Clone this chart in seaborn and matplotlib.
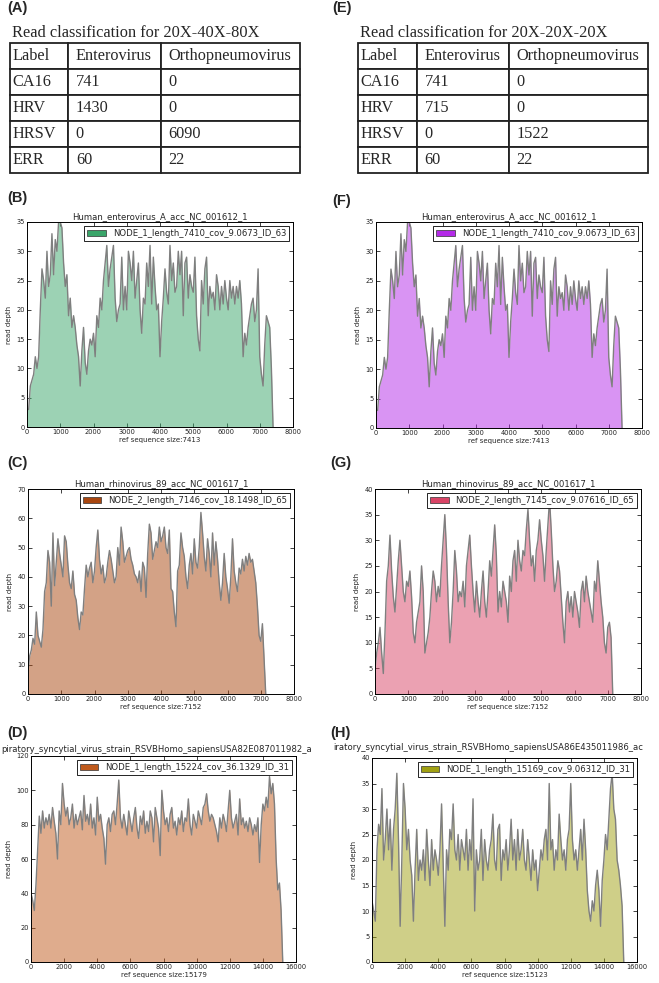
import numpy as np
import pandas as pd
import seaborn as sns
import matplotlib.pyplot as plt
from matplotlib.patches import Patch

# ---- read classification tables ----
table_cols = ["Label", "Enterovirus", "Orthopneumovirus"]
table_labels = ["CA16", "HRV", "HRSV", "ERR"]
entero_a = [741, 1430, 0, 60]
ortho_a = [0, 0, 6090, 22]
entero_e = [741, 715, 0, 60]
ortho_e = [0, 0, 1522, 22]

# ---- coverage profiles ----
# enterovirus A, same reads in (B) and (F), every 50 bp
ent_pos = np.arange(0, 7401, 50)
ent_depth = [
    3, 3, 7, 8, 9, 12, 10, 12, 20, 27,
    25, 22, 30, 24, 26, 33, 26, 32, 30, 35,
    35, 34, 28, 24, 26, 19, 22, 17, 19, 17,
    14, 12, 7, 13, 17, 11, 9, 13, 15, 14,
    16, 12, 19, 17, 22, 20, 25, 28, 31, 24,
    27, 29, 31, 22, 18, 20, 21, 29, 20, 24,
    20, 30, 28, 25, 30, 22, 25, 28, 20, 16,
    22, 21, 28, 24, 31, 21, 29, 24, 20, 21,
    12, 18, 22, 27, 23, 21, 31, 25, 28, 23,
    24, 30, 26, 30, 19, 28, 29, 22, 26, 24,
    23, 29, 19, 15, 13, 25, 21, 27, 29, 19,
    24, 22, 23, 20, 26, 24, 20, 24, 21, 25,
    22, 20, 25, 22, 24, 21, 24, 22, 25, 21,
    12, 16, 14, 17, 19, 21, 22, 18, 20, 27,
    12, 9, 7, 14, 19, 18, 17, 10, 0,
]

# rhinovirus 89, every 50 bp
rhino_pos = np.arange(0, 7151, 50)
rhino40_depth = [
    8, 13, 15, 19, 17, 28, 20, 18, 16, 22,
    35, 38, 49, 45, 30, 55, 37, 45, 53, 48,
    44, 40, 54, 52, 44, 38, 36, 42, 34, 32,
    26, 22, 28, 27, 36, 44, 40, 43, 45, 38,
    42, 50, 56, 46, 41, 44, 38, 40, 45, 49,
    46, 42, 38, 40, 50, 44, 57, 52, 45, 47,
    49, 50, 46, 44, 41, 40, 38, 42, 35, 45,
    43, 33, 48, 58, 55, 46, 49, 52, 50, 57,
    52, 54, 57, 50, 48, 56, 36, 35, 28, 23,
    42, 44, 55, 50, 47, 40, 36, 44, 48, 41,
    53, 45, 43, 50, 62, 55, 47, 42, 53, 48,
    40, 55, 44, 52, 46, 38, 32, 38, 48, 40,
    36, 31, 40, 53, 42, 38, 35, 43, 41, 46,
    42, 47, 44, 48, 45, 46, 42, 38, 30, 20,
    18, 24, 12, 0,
]
rhino20_depth = [
    5, 8, 10, 13, 8, 4, 12, 22, 25, 31,
    24, 19, 16, 21, 26, 30, 25, 20, 18, 22,
    21, 24, 19, 12, 10, 14, 16, 18, 25, 20,
    8, 10, 12, 15, 20, 24, 22, 18, 21, 19,
    25, 30, 35, 28, 18, 10, 14, 20, 28, 24,
    18, 20, 19, 22, 17, 25, 28, 31, 25, 20,
    16, 22, 18, 15, 20, 24, 18, 15, 20, 26,
    23, 28, 33, 27, 16, 20, 17, 22, 20, 18,
    14, 23, 20, 26, 28, 22, 30, 26, 24, 28,
    27, 32, 36, 30, 25, 27, 22, 28, 30, 34,
    30, 27, 22, 28, 33, 38, 32, 25, 20, 22,
    26, 24, 19, 14, 10, 18, 20, 16, 19, 15,
    20, 18, 16, 13, 20, 22, 18, 23, 20, 18,
    16, 14, 22, 20, 26, 22, 18, 15, 10, 8,
    13, 14, 11, 0,
]

# respiratory syncytial virus B, every 100 bp
rsv_pos = np.arange(0, 15201, 100)
rsv80_depth = [
    40, 36, 30, 45, 65, 85, 75, 88, 78, 84,
    80, 86, 78, 90, 82, 75, 60, 88, 80, 104,
    92, 85, 90, 80, 84, 92, 78, 86, 80, 84,
    88, 77, 97, 82, 86, 80, 92, 78, 84, 74,
    96, 82, 86, 78, 72, 57, 80, 84, 76, 86,
    88, 80, 92, 106, 84, 78, 86, 80, 74, 88,
    82, 76, 84, 90, 78, 72, 85, 80, 88, 75,
    82, 76, 88, 84, 70, 90, 84, 78, 62, 100,
    88, 80, 84, 76, 86, 90, 78, 82, 74, 84,
    80, 88, 76, 84, 82, 95, 80, 74, 86, 82,
    78, 88, 84, 80, 90, 92, 98, 88, 82, 86,
    84, 80, 76, 70, 84, 78, 86, 82, 76, 88,
    100, 84, 78, 82, 86, 74, 95, 80, 84, 78,
    82, 76, 84, 80, 74, 80, 76, 84, 58, 80,
    92, 88, 96, 90, 108, 98, 104, 92, 60, 42,
    46, 30, 0,
]
rsv20_depth = [
    12, 10, 8, 22, 27, 25, 34, 20, 24, 30,
    22, 28, 18, 26, 30, 37, 24, 7, 20, 35,
    30, 22, 26, 20, 17, 8, 18, 26, 16, 20,
    18, 22, 16, 26, 20, 15, 24, 18, 22, 20,
    17, 22, 31, 19, 7, 22, 18, 26, 24, 31,
    22, 20, 25, 18, 24, 22, 20, 26, 18, 24,
    20, 32, 10, 22, 18, 20, 26, 16, 24, 20,
    18, 22, 24, 29, 20, 18, 26, 27, 16, 22,
    20, 24, 18, 22, 28, 20, 24, 18, 26, 20,
    22, 26, 20, 18, 24, 20, 16, 22, 18, 20,
    14, 18, 22, 20, 24, 26, 20, 35, 22, 24,
    18, 22, 20, 29, 24, 20, 22, 18, 24, 26,
    35, 24, 20, 22, 18, 22, 26, 20, 28, 22,
    14, 10, 8, 12, 10, 15, 18, 14, 7, 16,
    20, 25, 22, 28, 34, 37, 30, 28, 20, 18,
    15, 11, 0,
]

W, H = 659, 983
sns.set_theme(style="white")
plt.rcParams['font.family'] = ['DejaVu Sans']

fig = plt.figure(figsize=(W / 100, H / 100), dpi=100)


def rect(l, t, r, b):
    return [l / W, 1 - b / H, (r - l) / W, (b - t) / H]


def panel_label(x, y, s):
    fig.text(x / W, 1 - y / H, s, fontsize=10.5, fontweight='bold',
             family='Liberation Sans', va='center', ha='left')


def draw_table(l, t, r, b, col_px, ent, orth, title):
    ax = fig.add_axes(rect(l, t, r, b))
    ax.axis('off')
    rows = [table_cols] + [[lab, str(e), str(o)] for lab, e, o in zip(table_labels, ent, orth)]
    tb = ax.table(cellText=rows, cellLoc='left', colWidths=[c / (r - l) for c in col_px],
                  bbox=[0, 0, 1, 1])
    tb.auto_set_font_size(False)
    pads = [2.5, 7.5, 7.5]
    for (ri, ci), cell in tb.get_celld().items():
        cell.set_linewidth(1.3)
        cell.set_edgecolor('#222222')
        cell.PAD = pads[ci] / col_px[ci]
        cell.get_text().set_fontfamily('Liberation Serif')
        cell.get_text().set_fontsize(11.7)
    fig.text((l + 2) / W, 1 - 33 / H, title, fontsize=11.8, family='Liberation Serif',
             va='center', ha='left')


def coverage(box, pos, depth, color, title, node, size, ymax, ystep, xmax, xstep):
    ax = fig.add_axes(rect(*box))
    df = pd.DataFrame({"pos": pos, "depth": depth})
    ax.fill_between(df["pos"], df["depth"], color=color, alpha=0.5, linewidth=0)
    sns.lineplot(data=df, x="pos", y="depth", ax=ax, color="#7f7f7f", linewidth=1.0)
    ax.set_xlim(0, xmax)
    ax.set_ylim(0, ymax)
    ax.set_xticks(np.arange(0, xmax + 1, xstep))
    ax.set_yticks(np.arange(0, ymax + 1, ystep))
    ax.tick_params(direction='in', top=True, right=True, bottom=True, left=True,
                   length=3, width=0.6, labelsize=4.8, pad=1.5, colors='#222222')
    for sp in ax.spines.values():
        sp.set_color('black')
        sp.set_linewidth(0.7)
    ax.set_xlabel(f"ref sequence size:{size}", fontsize=5, labelpad=1.5)
    ax.set_ylabel("read depth", fontsize=5, labelpad=3)
    if title:
        ax.set_title(title, fontsize=6.1, pad=2)
    ax.legend(handles=[Patch(facecolor=color, edgecolor='#333333', linewidth=0.5)],
              labels=[node], loc='upper right', fontsize=6.1, frameon=True,
              fancybox=False, edgecolor='black', framealpha=1, borderaxespad=0.45,
              handlelength=2.2, borderpad=0.35)
    ax.get_legend().get_frame().set_linewidth(0.6)
    return ax


# tables
panel_label(7, 8, "(A)")
draw_table(10, 43, 300, 173, [58.3, 92.4, 139.3], entero_a, ortho_a,
           "Read classification for 20X-40X-80X")
panel_label(332, 8, "(E)")
draw_table(358, 43, 648, 173, [59, 91.7, 139.3], entero_e, ortho_e,
           "Read classification for 20X-20X-20X")

# enterovirus
panel_label(7, 198, "(B)")
coverage((27, 222, 293, 427), ent_pos, ent_depth, "#3aa66a",
         "Human_enterovirus_A_acc_NC_001612_1", "NODE_1_length_7410_cov_9.0673_ID_63",
         7413, 35, 5, 8000, 1000)
panel_label(332, 201, "(F)")
coverage((376, 222, 642, 428), ent_pos, ent_depth, "#b42ae8",
         "Human_enterovirus_A_acc_NC_001612_1", "NODE_1_length_7410_cov_9.0673_ID_63",
         7413, 35, 5, 8000, 1000)

# rhinovirus
panel_label(7, 463, "(C)")
coverage((28, 489, 294, 694), rhino_pos, rhino40_depth, "#a8460f",
         "Human_rhinovirus_89_acc_NC_001617_1", "NODE_2_length_7146_cov_18.1498_ID_65",
         7152, 70, 10, 8000, 1000)
panel_label(330, 463, "(G)")
coverage((375, 489, 641, 694), rhino_pos, rhino20_depth, "#d94466",
         "Human_rhinovirus_89_acc_NC_001617_1", "NODE_2_length_7145_cov_9.07616_ID_65",
         7152, 40, 5, 8000, 1000)

# respiratory syncytial virus
panel_label(7, 733, "(D)")
coverage((31, 756, 296, 962), rsv_pos, rsv80_depth, "#c05a1c",
         None, "NODE_1_length_15224_cov_36.1329_ID_31",
         15179, 120, 20, 16000, 2000)
fig.text(1 / W, 1 - 749 / H, "piratory_syncytial_virus_strain_RSVBHomo_sapiensUSA82E087011982_a",
         fontsize=6.1, va='center', ha='left')
panel_label(330, 733, "(H)")
coverage((372, 758, 637, 962), rsv_pos, rsv20_depth, "#a0a012",
         None, "NODE_1_length_15169_cov_9.06312_ID_31",
         15123, 40, 5, 16000, 2000)
fig.text(333 / W, 1 - 747 / H, "iratory_syncytial_virus_strain_RSVBHomo_sapiensUSA86E435011986_ac",
         fontsize=6.1, va='center', ha='left')

plt.savefig("out.png", dpi=100)
